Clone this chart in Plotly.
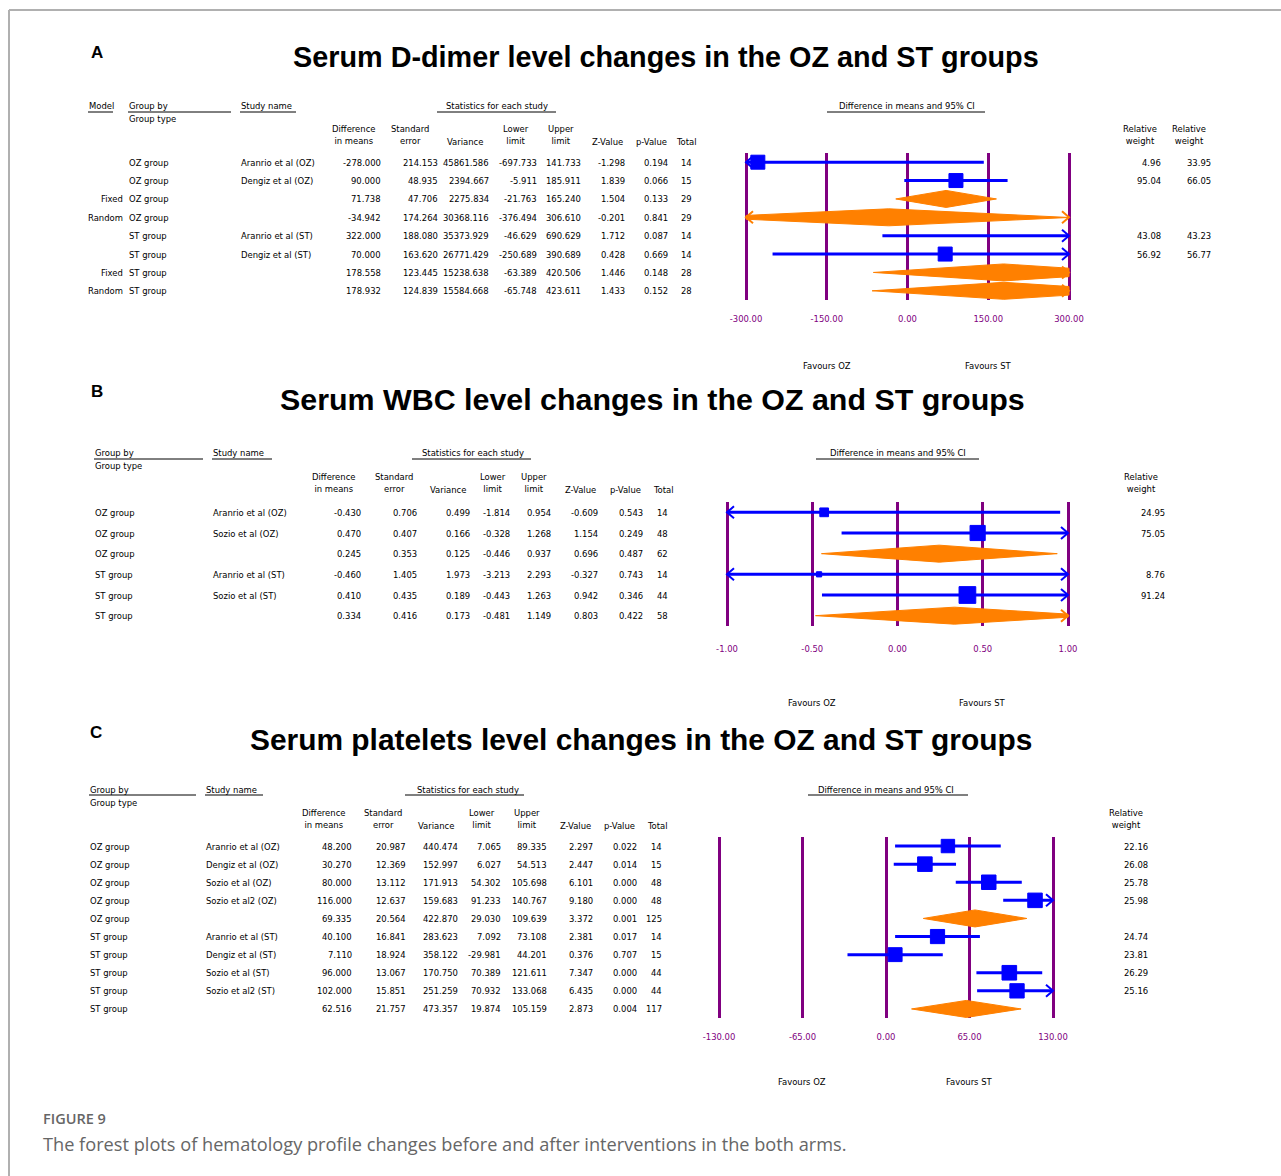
import numpy as np
import plotly.graph_objects as go

# ---------------------------------------------------------------------------
# Panel A - serum D-dimer
# ---------------------------------------------------------------------------
a_model = ["", "", "Fixed", "Random", "", "", "Fixed", "Random"]
a_group = ["OZ group", "OZ group", "OZ group", "OZ group",
           "ST group", "ST group", "ST group", "ST group"]
a_study = ["Aranrio et al (OZ)", "Dengiz et al (OZ)", "", "",
           "Aranrio et al (ST)", "Dengiz et al (ST)", "", ""]
a_diff = [-278.000, 90.000, 71.738, -34.942, 322.000, 70.000, 178.558, 178.932]
a_se = [214.153, 48.935, 47.706, 174.264, 188.080, 163.620, 123.445, 124.839]
a_var = [45861.586, 2394.667, 2275.834, 30368.116, 35373.929, 26771.429, 15238.638, 15584.668]
a_lower = [-697.733, -5.911, -21.763, -376.494, -46.629, -250.689, -63.389, -65.748]
a_upper = [141.733, 185.911, 165.240, 306.610, 690.629, 390.689, 420.506, 423.611]
a_z = [-1.298, 1.839, 1.504, -0.201, 1.712, 0.428, 1.446, 1.433]
a_p = [0.194, 0.066, 0.133, 0.841, 0.087, 0.669, 0.148, 0.152]
a_total = [14, 15, 29, 29, 14, 14, 28, 28]
a_weight_fixed = [4.96, 95.04, None, None, 43.08, 56.92, None, None]
a_weight_random = [33.95, 66.05, None, None, 43.23, 56.77, None, None]
a_ticks = [-300, -150, 0, 150, 300]

# ---------------------------------------------------------------------------
# Panel B - serum WBC
# ---------------------------------------------------------------------------
b_group = ["OZ group", "OZ group", "OZ group", "ST group", "ST group", "ST group"]
b_study = ["Aranrio et al (OZ)", "Sozio et al (OZ)", "",
           "Aranrio et al (ST)", "Sozio et al (ST)", ""]
b_diff = [-0.430, 0.470, 0.245, -0.460, 0.410, 0.334]
b_se = [0.706, 0.407, 0.353, 1.405, 0.435, 0.416]
b_var = [0.499, 0.166, 0.125, 1.973, 0.189, 0.173]
b_lower = [-1.814, -0.328, -0.446, -3.213, -0.443, -0.481]
b_upper = [0.954, 1.268, 0.937, 2.293, 1.263, 1.149]
b_z = [-0.609, 1.154, 0.696, -0.327, 0.942, 0.803]
b_p = [0.543, 0.249, 0.487, 0.743, 0.346, 0.422]
b_total = [14, 48, 62, 14, 44, 58]
b_weight = [24.95, 75.05, None, 8.76, 91.24, None]
b_ticks = [-1.0, -0.5, 0.0, 0.5, 1.0]

# ---------------------------------------------------------------------------
# Panel C - serum platelets
# ---------------------------------------------------------------------------
c_group = ["OZ group"] * 5 + ["ST group"] * 5
c_study = ["Aranrio et al (OZ)", "Dengiz et al (OZ)", "Sozio et al (OZ)", "Sozio et al2 (OZ)", "",
           "Aranrio et al (ST)", "Dengiz et al (ST)", "Sozio et al (ST)", "Sozio et al2 (ST)", ""]
c_diff = [48.200, 30.270, 80.000, 116.000, 69.335, 40.100, 7.110, 96.000, 102.000, 62.516]
c_se = [20.987, 12.369, 13.112, 12.637, 20.564, 16.841, 18.924, 13.067, 15.851, 21.757]
c_var = [440.474, 152.997, 171.913, 159.683, 422.870, 283.623, 358.122, 170.750, 251.259, 473.357]
c_lower = [7.065, 6.027, 54.302, 91.233, 29.030, 7.092, -29.981, 70.389, 70.932, 19.874]
c_upper = [89.335, 54.513, 105.698, 140.767, 109.639, 73.108, 44.201, 121.611, 133.068, 105.159]
c_z = [2.297, 2.447, 6.101, 9.180, 3.372, 2.381, 0.376, 7.347, 6.435, 2.873]
c_p = [0.022, 0.014, 0.000, 0.000, 0.001, 0.017, 0.707, 0.000, 0.000, 0.004]
c_total = [14, 15, 48, 48, 125, 14, 15, 44, 44, 117]
c_weight = [22.16, 26.08, 25.78, 25.98, None, 24.74, 23.81, 26.29, 25.16, None]
c_ticks = [-130, -65, 0, 65, 130]

# ---------------------------------------------------------------------------
# Styling
# ---------------------------------------------------------------------------
W, H = 1281, 1176
BLUE = "#0000FF"
ORANGE = "#FF8000"
PURPLE = "#800080"
NARROW = "DejaVu Sans Condensed, Liberation Sans Narrow, sans-serif"
SANS = "Liberation Sans, Arial, sans-serif"
TABLE_SIZE = 9.4

fig = go.Figure()


def xp(px):
    return px / W


def yp(py):
    return 1 - py / H


def label(text, x, y, xanchor="left", yref="paper", size=TABLE_SIZE,
          color="#000000", family=NARROW, xref="paper", weight=None):
    font = dict(size=size, color=color, family=family)
    if weight is not None:
        font["weight"] = weight
    fig.add_annotation(
        text=text,
        x=xp(x) if xref == "paper" else x,
        y=yp(y) if yref == "paper" else y,
        xref=xref, yref=yref, xanchor=xanchor, yanchor="middle",
        showarrow=False, font=font, borderpad=0,
    )


def underline(x0, x1, y):
    fig.add_shape(type="line", xref="paper", yref="paper",
                  x0=xp(x0), x1=xp(x1), y0=yp(y), y1=yp(y),
                  line=dict(color="#000000", width=1))


def setup_axes(idx, zero_px, ppu, limit, ticks, top_px, bottom_px, nrows, standoff):
    sfx = "" if idx == 1 else str(idx)
    left = zero_px - limit * ppu - 8
    right = zero_px + limit * ppu + 8
    fig.update_layout({
        f"xaxis{sfx}": dict(
            domain=[xp(left), xp(right)],
            range=[(left - zero_px) / ppu, (right - zero_px) / ppu],
            anchor=f"y{sfx}", tickvals=ticks,
            ticktext=[f"{t:.2f}" for t in ticks],
            showgrid=True, gridcolor=PURPLE, gridwidth=3,
            zeroline=False, showline=False, ticks="",
            tickfont=dict(family=NARROW, size=TABLE_SIZE, color=PURPLE),
            ticklabelstandoff=standoff, fixedrange=True, automargin=False,
        ),
        f"yaxis{sfx}": dict(
            domain=[yp(bottom_px), yp(top_px)],
            range=[nrows - 0.5, -0.5], anchor=f"x{sfx}",
            showgrid=False, zeroline=False, showticklabels=False,
            ticks="", fixedrange=True, automargin=False,
        ),
    })
    return (bottom_px - top_px) / nrows


def draw_forest(idx, est, lo, hi, summary, sizes, limit, ppu, row_px):
    sfx = "" if idx == 1 else str(idx)
    xa, ya = f"x{sfx}", f"y{sfx}"
    dx = 7.0 / ppu
    dy = 6.0 / row_px
    dh = 8.5 / row_px

    line_x, line_y = [], []
    arrow_b_x, arrow_b_y = [], []
    arrow_o_x, arrow_o_y = [], []
    dia_x, dia_y = [], []
    sq_x, sq_y, sq_s = [], [], []

    for i in range(len(est)):
        c, l, r = est[i], lo[i], hi[i]
        lc, rc = max(l, -limit), min(r, limit)
        if summary[i]:
            if l < -limit:
                hl = dh * (-limit - l) / (c - l)
                left_pts = [(-limit, i + hl), (-limit, i - hl)]
            else:
                left_pts = [(l, i)]
            if r > limit:
                hr = dh * (r - limit) / (r - c)
                right_pts = [(limit, i - hr), (limit, i + hr)]
            else:
                right_pts = [(r, i)]
            pts = left_pts + [(c, i - dh)] + right_pts + [(c, i + dh)] + [left_pts[0]]
            dia_x += [p[0] for p in pts] + [None]
            dia_y += [p[1] for p in pts] + [None]
            ax, ay = arrow_o_x, arrow_o_y
        else:
            line_x += [lc, rc, None]
            line_y += [i, i, None]
            if -limit <= c <= limit:
                sq_x.append(c)
                sq_y.append(i)
                sq_s.append(sizes[i])
            ax, ay = arrow_b_x, arrow_b_y
        if l < -limit:
            ax += [-limit + dx, -limit, -limit + dx, None]
            ay += [i - dy, i, i + dy, None]
        if r > limit:
            ax += [limit - dx, limit, limit - dx, None]
            ay += [i - dy, i, i + dy, None]

    common = dict(xaxis=xa, yaxis=ya, showlegend=False, hoverinfo="skip", opacity=1)
    fig.add_trace(go.Scatter(x=line_x, y=line_y, mode="lines",
                             line=dict(color=BLUE, width=3), **common))
    fig.add_trace(go.Scatter(x=dia_x, y=dia_y, mode="lines", fill="toself",
                             fillcolor=ORANGE, line=dict(color=ORANGE, width=1), **common))
    fig.add_trace(go.Scatter(x=sq_x, y=sq_y, mode="markers",
                             marker=dict(symbol="square", color=BLUE, size=sq_s, opacity=1,
                                         line=dict(width=1, color=BLUE)), **common))
    fig.add_trace(go.Scatter(x=arrow_b_x, y=arrow_b_y, mode="lines",
                             line=dict(color=BLUE, width=2), **common))
    fig.add_trace(go.Scatter(x=arrow_o_x, y=arrow_o_y, mode="lines",
                             line=dict(color=ORANGE, width=2), **common))


def square_sizes(weights, scale, smin, smax):
    return [float(np.clip(scale * np.sqrt(w), smin, smax)) if w is not None else 0
            for w in weights]


def table(cols, ystr):
    for values, right_px, fmt in cols:
        for i, v in enumerate(values):
            if v is None or v == "":
                continue
            label(fmt.format(v), right_px, i, xanchor="right", yref=ystr)


def text_cols(cols, ystr):
    for values, left_px, anchor in cols:
        for i, v in enumerate(values):
            if v:
                label(v, left_px, i, xanchor=anchor, yref=ystr)


def stat_headers(spec):
    for text, cx, cy in spec:
        label(text, cx, cy, xanchor="center")


# ---------------------------------------------------------------------------
# Panel A
# ---------------------------------------------------------------------------
A_ZERO, A_PPU = 907.5, 323 / 600
row_a = setup_axes(1, A_ZERO, A_PPU, 300, a_ticks, 153, 300, len(a_diff), 12)
a_summary = [s == "" for s in a_study]
draw_forest(1, a_diff, a_lower, a_upper, a_summary,
            square_sizes(a_weight_random, 2.0, 14, 14), 300, A_PPU, row_a)

label("<b>A</b>", 90, 53, size=17, family=SANS)
label("<b>Serum D-dimer level changes in the OZ and ST groups</b>", 666, 57,
      xanchor="center", size=28.8, family=SANS)
label("Model", 88, 105)
underline(88, 113, 112)
label("Group by", 128, 105)
underline(128, 231, 112)
label("Group type", 128, 118)
label("Study name", 240, 105)
underline(240, 296, 112)
label("Statistics for each study", 497, 105, xanchor="center")
underline(437, 556, 112)
label("Difference in means and 95% CI", 907, 105, xanchor="center")
underline(827, 985, 112)
stat_headers([("Difference<br>in means", 354, 134.5), ("Standard<br>error", 410, 134.5),
              ("Variance", 465, 141), ("Lower<br>limit", 516, 134.5),
              ("Upper<br>limit", 561, 134.5), ("Z-Value", 607, 141),
              ("p-Value", 651, 141), ("Total", 686, 141),
              ("Relative<br>weight", 1140, 134.5), ("Relative<br>weight", 1189, 134.5)])
text_cols([(a_model, 124, "right"), (a_group, 128, "left"), (a_study, 240, "left")], "y")
table([(a_diff, 382, "{:.3f}"), (a_se, 439, "{:.3f}"), (a_var, 490, "{:.3f}"),
       (a_lower, 538, "{:.3f}"), (a_upper, 582, "{:.3f}"), (a_z, 626, "{:.3f}"),
       (a_p, 669, "{:.3f}"), (a_total, 693, "{:d}"),
       (a_weight_fixed, 1162, "{:.2f}"), (a_weight_random, 1212, "{:.2f}")], "y")
label("Favours OZ", -150, 365, xanchor="center", xref="x")
label("Favours ST", 150, 365, xanchor="center", xref="x")

# ---------------------------------------------------------------------------
# Panel B
# ---------------------------------------------------------------------------
B_ZERO, B_PPU = 897.5, 341 / 2
row_b = setup_axes(2, B_ZERO, B_PPU, 1.0, b_ticks, 502, 626, len(b_diff), 16)
b_summary = [s == "" for s in b_study]
draw_forest(2, b_diff, b_lower, b_upper, b_summary,
            square_sizes(b_weight, 1.75, 5, 17), 1.0, B_PPU, row_b)

label("<b>B</b>", 90, 392, size=17, family=SANS)
label("<b>Serum WBC level changes in the OZ and ST groups</b>", 652, 399,
      xanchor="center", size=30.4, family=SANS)
label("Group by", 94, 452)
underline(94, 203, 459)
label("Group type", 94, 465)
label("Study name", 212, 452)
underline(212, 272, 459)
label("Statistics for each study", 473, 452, xanchor="center")
underline(412, 531, 459)
label("Difference in means and 95% CI", 898, 452, xanchor="center")
underline(816, 979, 459)
stat_headers([("Difference<br>in means", 333, 482.5), ("Standard<br>error", 394, 482.5),
              ("Variance", 448, 489), ("Lower<br>limit", 493, 482.5),
              ("Upper<br>limit", 534, 482.5), ("Z-Value", 580, 489),
              ("p-Value", 625, 489), ("Total", 663, 489),
              ("Relative<br>weight", 1141, 482.5)])
text_cols([(b_group, 94, "left"), (b_study, 212, "left")], "y2")
table([(b_diff, 362, "{:.3f}"), (b_se, 418, "{:.3f}"), (b_var, 471, "{:.3f}"),
       (b_lower, 511, "{:.3f}"), (b_upper, 552, "{:.3f}"), (b_z, 599, "{:.3f}"),
       (b_p, 644, "{:.3f}"), (b_total, 669, "{:d}"),
       (b_weight, 1166, "{:.2f}")], "y2")
label("Favours OZ", -0.5, 702, xanchor="center", xref="x2")
label("Favours ST", 0.5, 702, xanchor="center", xref="x2")

# ---------------------------------------------------------------------------
# Panel C
# ---------------------------------------------------------------------------
C_ZERO, C_PPU = 886, 334 / 260
row_c = setup_axes(3, C_ZERO, C_PPU, 130, c_ticks, 837, 1018, len(c_diff), 12)
c_summary = [s == "" for s in c_study]
draw_forest(3, c_diff, c_lower, c_upper, c_summary,
            square_sizes(c_weight, 2.85, 5, 16), 130, C_PPU, row_c)

label("<b>C</b>", 89, 732, size=17, family=SANS)
label("<b>Serum platelets level changes in the OZ and ST groups</b>", 641, 739,
      xanchor="center", size=29.9, family=SANS)
label("Group by", 89, 789)
underline(89, 196, 795)
label("Group type", 89, 802)
label("Study name", 205, 789)
underline(205, 263, 795)
label("Statistics for each study", 468, 789, xanchor="center")
underline(405, 524, 795)
label("Difference in means and 95% CI", 886, 789, xanchor="center")
underline(808, 968, 795)
stat_headers([("Difference<br>in means", 323, 818), ("Standard<br>error", 383, 818),
              ("Variance", 436, 825), ("Lower<br>limit", 482, 818),
              ("Upper<br>limit", 527, 818), ("Z-Value", 575, 825),
              ("p-Value", 619, 825), ("Total", 657, 825),
              ("Relative<br>weight", 1126, 818)])
text_cols([(c_group, 89, "left"), (c_study, 205, "left")], "y3")
table([(c_diff, 353, "{:.3f}"), (c_se, 407, "{:.3f}"), (c_var, 459, "{:.3f}"),
       (c_lower, 502, "{:.3f}"), (c_upper, 548, "{:.3f}"), (c_z, 594, "{:.3f}"),
       (c_p, 638, "{:.3f}"), (c_total, 663, "{:d}"),
       (c_weight, 1149, "{:.2f}")], "y3")
label("Favours OZ", -65, 1081, xanchor="center", xref="x3")
label("Favours ST", 65, 1081, xanchor="center", xref="x3")

# ---------------------------------------------------------------------------
# Caption and frame
# ---------------------------------------------------------------------------
label("FIGURE 9", 42, 1118, size=14.5, color="#666666", family="Open Sans", weight=600)
label("The forest plots of hematology profile changes before and after interventions in the both arms.",
      42, 1144, size=18.2, color="#666666", family="Open Sans")

fig.add_shape(type="line", xref="paper", yref="paper", x0=xp(9), x1=1, y0=yp(10), y1=yp(10),
              line=dict(color="#B0B0B0", width=2))
fig.add_shape(type="line", xref="paper", yref="paper", x0=xp(9), x1=xp(9), y0=yp(10), y1=0,
              line=dict(color="#B0B0B0", width=2))

fig.update_layout(
    width=W, height=H, autosize=False,
    margin=dict(l=0, r=0, t=0, b=0, pad=0, autoexpand=False),
    paper_bgcolor="#FFFFFF", plot_bgcolor="#FFFFFF",
    showlegend=False,
)

fig.write_html("out.html")
